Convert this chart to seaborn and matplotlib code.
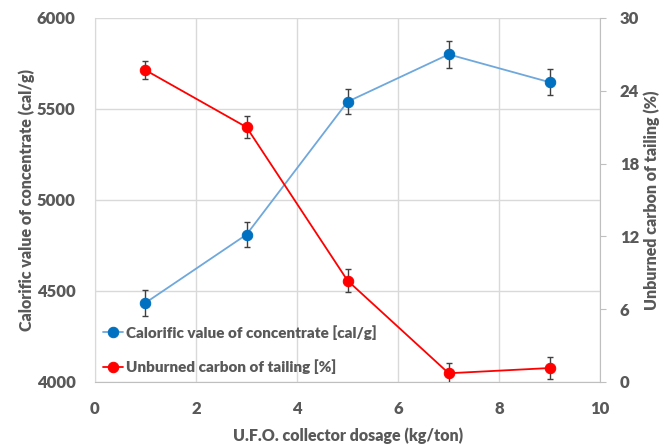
import matplotlib
matplotlib.use("Agg")
import matplotlib.pyplot as plt
import numpy as np
import pandas as pd
import seaborn as sns

# data
dosage = [1, 3, 5, 7, 9]
calorific = [4435, 4810, 5540, 5800, 5647]
calorific_err = [70, 68, 70, 73, 70]
unburned = [25.7, 21.0, 8.35, 0.72, 1.15]
unburned_err = [0.75, 0.9, 0.95, 0.85, 0.9]

blue_line = "#6FA8DC"
blue_mark = "#0070C0"
red = "#FF0000"
grey = "#595959"

sns.set_style("white")
plt.rcParams['font.family'] = ['Lato', 'DejaVu Sans']
plt.rcParams['font.weight'] = 'bold'

df = pd.DataFrame({"dosage": dosage, "calorific": calorific, "unburned": unburned})

fig = plt.figure(figsize=(6.64, 4.45), dpi=100)
ax = fig.add_axes([0.143, 0.1416, 0.761, 0.818])
ax2 = ax.twinx()

# calorific value on left axis
ax.errorbar(dosage, calorific, yerr=calorific_err, fmt='none', ecolor='#404040',
            elinewidth=1, capsize=2, capthick=1, zorder=3)
sns.lineplot(data=df, x="dosage", y="calorific", ax=ax, color=blue_line, linewidth=1.3,
             marker='o', markersize=7.5, markerfacecolor=blue_mark, markeredgecolor=blue_mark,
             label="Calorific value of concentrate [cal/g]", legend=False, zorder=4)

# unburned carbon on right axis
ax2.errorbar(dosage, unburned, yerr=unburned_err, fmt='none', ecolor='#404040',
             elinewidth=1, capsize=2, capthick=1, zorder=3)
sns.lineplot(data=df, x="dosage", y="unburned", ax=ax2, color=red, linewidth=1.3,
             marker='o', markersize=7.5, markerfacecolor=red, markeredgecolor=red,
             label="Unburned carbon of tailing [%]", legend=False, zorder=4)

ax.set_xlim(0, 10)
ax.set_ylim(4000, 6000)
ax2.set_ylim(0, 30)
ax.set_xticks(np.arange(0, 11, 2))
ax.set_yticks(np.arange(4000, 6001, 500))
ax2.set_yticks(np.arange(0, 31, 6))

ax.grid(True, color="#D9D9D9", linewidth=1)
ax.set_axisbelow(True)

for a in (ax, ax2):
    for s in a.spines.values():
        s.set_visible(False)
    a.tick_params(colors=grey, labelsize=12)
    for lbl in a.get_xticklabels() + a.get_yticklabels():
        lbl.set_fontweight('heavy')
ax.spines['left'].set_visible(True)
ax.spines['left'].set_color("#D9D9D9")
ax.spines['bottom'].set_visible(True)
ax.spines['bottom'].set_color("#BFBFBF")
ax2.spines['right'].set_visible(True)
ax2.spines['right'].set_color("#BFBFBF")
ax.tick_params(axis='y', length=0, pad=14)
ax.tick_params(axis='x', length=0, pad=14)
ax2.tick_params(axis='y', length=4, color="#BFBFBF", pad=10)

ax.set_xlabel("U.F.O. collector dosage (kg/ton)", color=grey, fontsize=11.5, fontweight='heavy', labelpad=7)
ax.set_ylabel("Calorific value of concentrate (cal/g)", color=grey, fontsize=11.5, fontweight='heavy', labelpad=1)
ax2.set_ylabel("Unburned carbon of tailing (%)", color=grey, fontsize=11.5, fontweight='heavy', labelpad=3)

h1, l1 = ax.get_legend_handles_labels()
h2, l2 = ax2.get_legend_handles_labels()
leg = ax2.legend(h1 + h2, l1 + l2, loc='lower left', bbox_to_anchor=(-0.005, -0.008),
                 frameon=False, fontsize=11, handlelength=1.3, handletextpad=0.2,
                 labelspacing=1.3, borderaxespad=0.3)
for t in leg.get_texts():
    t.set_color(grey)
    t.set_fontweight('heavy')

fig.savefig("out.png", dpi=100)
